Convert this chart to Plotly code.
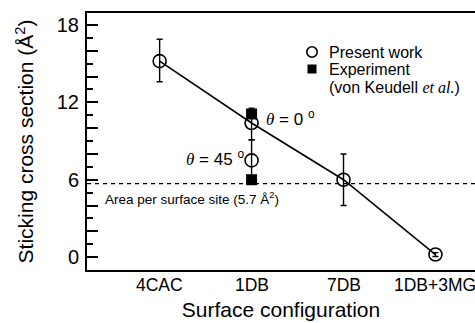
import plotly.graph_objects as go

categories = ["4CAC", "1DB", "7DB", "1DB+3MG"]
present_y = [15.2, 10.4, 6.0, 0.2]
present_err_plus = [1.7, 1.15, 2.0, 0.15]
present_err_minus = [1.6, 1.3, 2.0, 0.15]

theta45_x = ["1DB"]
theta45_y = [7.5]
theta45_err_plus = [1.6]
theta45_err_minus = [1.5]

exp_x = ["1DB", "1DB"]
exp_y = [11.1, 6.0]

area_per_site = 5.7

y_tickvals = [0, 2, 4, 6, 8, 10, 12, 14, 16, 18]
y_ticktext = ["0", "", "", "6", "", "", "12", "", "", "18"]

FONT = "Liberation Sans, Arial, Helvetica, sans-serif"
SERIF = "Liberation Serif, Times New Roman, serif"

fig = go.Figure()

fig.add_hline(y=area_per_site, line=dict(color="black", width=1.2, dash="4px,4px"))

fig.add_trace(go.Scatter(
    x=categories, y=present_y, mode="lines+markers",
    line=dict(color="black", width=1.6),
    marker=dict(symbol="circle-open", size=13, color="black", line=dict(width=1.6)),
    error_y=dict(type="data", symmetric=False, array=present_err_plus,
                 arrayminus=present_err_minus, color="black", thickness=1.4, width=3),
    showlegend=False,
))
fig.add_trace(go.Scatter(
    x=theta45_x, y=theta45_y, mode="markers",
    marker=dict(symbol="circle-open", size=13, color="black", line=dict(width=1.6)),
    error_y=dict(type="data", symmetric=False, array=theta45_err_plus,
                 arrayminus=theta45_err_minus, color="black", thickness=1.4, width=3),
    showlegend=False,
))
fig.add_trace(go.Scatter(
    x=exp_x, y=exp_y, mode="markers",
    marker=dict(symbol="square", size=11, color="black"),
    showlegend=False,
))

# category tick labels placed on the category scale
for cat in categories:
    fig.add_annotation(x=cat, xref="x", y=0, yref="paper", yshift=-15,
                       text=cat, showarrow=False, xanchor="center", yanchor="middle",
                       font=dict(size=17.5, color="black", family=FONT))

# legend (manual)
x_sym = (312 - 87) / 388
x_txt = (327 - 87) / 388
fig.add_shape(type="circle", xref="paper", yref="paper", xsizemode="pixel", ysizemode="pixel",
              xanchor=x_sym, yanchor=(270 - 52) / 257, x0=-5.2, x1=5.2, y0=-5.2, y1=5.2,
              line=dict(color="black", width=1.6))
fig.add_shape(type="rect", xref="paper", yref="paper", xsizemode="pixel", ysizemode="pixel",
              xanchor=x_sym, yanchor=(270 - 69) / 257, x0=-4.5, x1=4.5, y0=-4.5, y1=4.5,
              line=dict(color="black", width=0), fillcolor="black")
legend_texts = [
    ("Present work", 52),
    ("Experiment", 69),
    ("(von Keudell <span style=\"font-family:%s\"><i>et al.</i></span>)" % SERIF, 87),
]
for txt, py in legend_texts:
    fig.add_annotation(xref="paper", yref="paper", x=x_txt, y=(270 - py) / 257,
                       text=txt, showarrow=False, xanchor="left", yanchor="middle",
                       font=dict(size=16, color="black", family=FONT))

fig.add_annotation(x=(264 - 160) / 92, y=10.78, xref="x", yref="y",
                   text="<span style=\"font-family:%s\"><i>θ</i></span> = 0 <sup>o</sup>" % SERIF,
                   showarrow=False, xanchor="left", yanchor="middle",
                   font=dict(size=17, color="black", family=FONT))
fig.add_annotation(x=(246 - 160) / 92, y=7.7, xref="x", yref="y",
                   text="<span style=\"font-family:%s\"><i>θ</i></span> = 45 <sup>o</sup>" % SERIF,
                   showarrow=False, xanchor="right", yanchor="middle",
                   font=dict(size=17, color="black", family=FONT))
fig.add_annotation(x=(103 - 160) / 92, y=4.55, xref="x", yref="y",
                   text="Area per surface site (5.7 Å<sup>2</sup>)",
                   showarrow=False, xanchor="left", yanchor="middle",
                   font=dict(size=13.5, color="black", family=FONT))

fig.update_layout(
    width=475, height=323,
    margin=dict(l=87, r=0, t=13, b=53),
    paper_bgcolor="white", plot_bgcolor="white",
    font=dict(family=FONT, color="black"),
    xaxis=dict(
        type="category", categoryorder="array", categoryarray=categories,
        range=[-0.79, 3.43], showgrid=False, zeroline=False,
        showline=True, linecolor="black", linewidth=2, mirror=True,
        ticks="", showticklabels=False,
        title=dict(text="Surface configuration", font=dict(size=21, family=FONT), standoff=31),
    ),
    yaxis=dict(
        range=[-1.0, 18.93], tickvals=y_tickvals, ticktext=y_ticktext,
        showgrid=False, zeroline=False,
        showline=True, linecolor="black", linewidth=2,
        ticks="inside", ticklen=11, tickwidth=1.5, tickcolor="black",
        minor=dict(dtick=1, tick0=0, ticks="inside", ticklen=6, tickwidth=1.5, tickcolor="black"),
        tickfont=dict(size=20, family=FONT), ticklabelstandoff=2,
        title=dict(text="Sticking cross section (Å<sup>2</sup>)", font=dict(size=21, family=FONT), standoff=17),
    ),
)

fig.write_html("out.html", config={"displayModeBar": False},
               post_script="document.body.style.margin='0';document.body.style.overflow='hidden';")
